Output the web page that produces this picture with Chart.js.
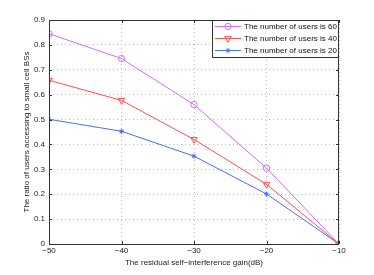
<!DOCTYPE html>
<html><head><meta charset="utf-8">
<script src="https://cdn.jsdelivr.net/npm/chart.js@4/dist/chart.umd.min.js"></script>
<style>html,body{margin:0;padding:0;background:#fff;}#wrap{width:374px;height:275px;}</style>
</head><body><div id="wrap"><canvas id="c" width="374" height="275"></canvas></div>
<script>
const xValues = [-50, -40, -30, -20, -10];
const users60 = [0.845, 0.745, 0.560, 0.305, 0.0];
const users40 = [0.658, 0.577, 0.420, 0.240, 0.0];
const users20 = [0.501, 0.453, 0.353, 0.201, 0.0];
const seriesLabels = ['The number of users is 60', 'The number of users is 40', 'The number of users is 20'];
const xTitle = 'The residual self\u2212interference gain(dB)';
const yTitle = 'The ratio of users accessing to small cell BSs';

const FONT = 'Liberation Sans, Arial, Helvetica, sans-serif';
const colors = ['#d66bff', '#ff4f4f', '#4a6cff'];
const styles = [
  {pointStyle:'circle', radius:3.2, rotation:0},
  {pointStyle:'triangle', radius:3.8, rotation:180},
  {pointStyle:'star', radius:2.5, rotation:0}
];
const allSeries = [users60, users40, users20];

const datasets = allSeries.map((s, i) => ({
  label: seriesLabels[i],
  data: xValues.map((x, j) => ({x: x, y: s[j]})),
  borderColor: colors[i],
  backgroundColor: 'rgba(0,0,0,0)',
  borderWidth: 1,
  pointStyle: styles[i].pointStyle,
  pointRadius: styles[i].radius,
  pointRotation: styles[i].rotation,
  pointBorderColor: colors[i],
  pointBackgroundColor: 'rgba(0,0,0,0)',
  pointBorderWidth: 1,
  tension: 0
}));

const framePlugin = {
  id: 'frame',
  afterDatasetsDraw(chart) {
    const ctx = chart.ctx, a = chart.chartArea;
    const xs = chart.scales.x, ys = chart.scales.y;
    ctx.save();
    ctx.strokeStyle = '#333';
    ctx.lineWidth = 1;
    ctx.beginPath();
    xs.ticks.forEach(t => {
      const px = Math.round(xs.getPixelForValue(t.value)) + 0.5;
      ctx.moveTo(px, a.bottom); ctx.lineTo(px, a.bottom - 3);
      ctx.moveTo(px, a.top); ctx.lineTo(px, a.top + 3);
    });
    ys.ticks.forEach(t => {
      const py = Math.round(ys.getPixelForValue(t.value)) + 0.5;
      ctx.moveTo(a.left, py); ctx.lineTo(a.left + 3, py);
      ctx.moveTo(a.right, py); ctx.lineTo(a.right - 3, py);
    });
    ctx.stroke();
    ctx.strokeRect(Math.round(a.left) + 0.5, Math.round(a.top) + 0.5, Math.round(a.right - a.left) - 1, Math.round(a.bottom - a.top));
    // legend
    const bw = 127, bh = 37;
    const bx = Math.round(a.right) - bw, by = Math.round(a.top);
    ctx.fillStyle = '#fff';
    ctx.fillRect(bx, by, bw, bh);
    ctx.strokeRect(bx + 0.5, by + 0.5, bw - 1, bh);
    ctx.font = '8px ' + FONT;
    ctx.textBaseline = 'middle';
    ctx.textAlign = 'left';
    seriesLabels.forEach((lab, i) => {
      const yy = by + 6.5 + i * 12;
      ctx.strokeStyle = colors[i];
      ctx.lineWidth = 1;
      ctx.beginPath();
      ctx.moveTo(bx + 3, yy); ctx.lineTo(bx + 29, yy);
      ctx.stroke();
      ctx.fillStyle = 'rgba(0,0,0,0)';
      ctx.strokeStyle = colors[i];
      Chart.helpers.drawPoint(ctx, {pointStyle: styles[i].pointStyle, radius: styles[i].radius, rotation: styles[i].rotation, borderWidth: 1}, bx + 16, yy);
      ctx.fillStyle = '#111';
      ctx.fillText(lab, bx + 32, yy + 0.5);
    });
    ctx.restore();
  }
};

new Chart(document.getElementById('c'), {
  type: 'line',
  data: { datasets: datasets },
  plugins: [framePlugin],
  options: {
    responsive: false,
    animation: false,
    devicePixelRatio: 1,
    layout: { padding: { left: 0, right: 35, top: 20, bottom: 0 } },
    plugins: { legend: { display: false }, tooltip: { enabled: false } },
    scales: {
      x: {
        type: 'linear', min: -50, max: -10,
        afterFit(s) { s.height = 31; },
        ticks: { stepSize: 10, padding: 2, color: '#222', font: { family: FONT, size: 8 },
          maxRotation: 0, callback: v => (v < 0 ? '\u2212' + Math.abs(v) : String(v)) },
        grid: { drawTicks: false, color: '#bbb', lineWidth: 1 },
        border: { display: false, dash: [1, 3] },
        title: { display: true, text: xTitle, color: '#222', font: { family: FONT, size: 8 }, padding: { top: 0, bottom: 7 } }
      },
      y: {
        min: 0, max: 0.9,
        afterFit(s) { s.width = 49; },
        ticks: { stepSize: 0.1, padding: 4, color: '#222', font: { family: FONT, size: 8 },
          callback: v => (Math.round(v * 10) / 10).toString() },
        grid: { drawTicks: false, color: '#bbb', lineWidth: 1 },
        border: { display: false, dash: [1, 3] },
        title: { display: true, text: yTitle, color: '#222', font: { family: FONT, size: 8 }, padding: { top: 22, bottom: 0 } }
      }
    }
  }
});
</script></body></html>
